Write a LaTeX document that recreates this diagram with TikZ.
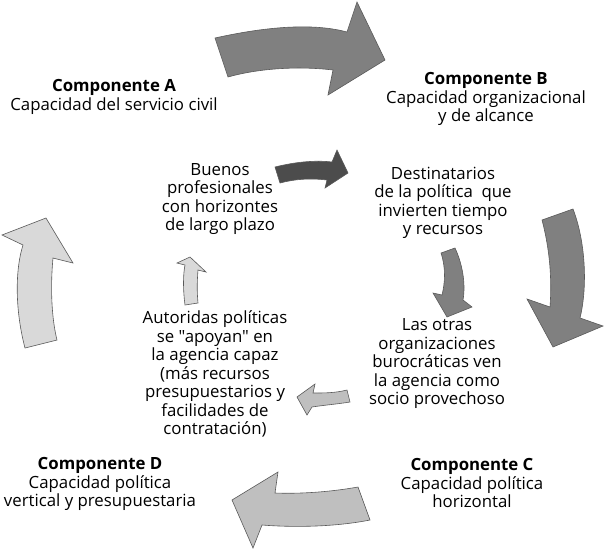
\documentclass[tikz,border=0pt]{standalone}
\usepackage{fontspec}
\setmainfont{Open Sans}[Ligatures=TeXOff]
\usepackage{tikz}
\usetikzlibrary{positioning}

\begin{document}
\begin{tikzpicture}[x=1pt, y=-1pt,
  label/.style={align=center, inner sep=0pt, font=\fontsize{16.8}{18.5}\selectfont},
  blockarrow/.style={draw=black!65, line width=0.6pt}]
\useasboundingbox (0,0) rectangle (605,550);

% big arrows of the outer cycle
\draw [blockarrow, fill=black!50] (215,38) .. controls (260,28) and (310,22) .. (347,32) -- (357,2) -- (385,60) -- (328,95) -- (333,70) .. controls (300,66) and (260,68) .. (228,77) -- cycle;
\draw [blockarrow, fill=black!50] (542,220) .. controls (550,250) and (552,280) .. (550,307) -- (527,299) -- (553,347) -- (603,326) -- (580,318) .. controls (588,285) and (585,240) .. (573,209) -- cycle;
\draw [blockarrow, fill=black!25] (358,487) .. controls (330,492) and (300,494) .. (275,493) -- (278,472) -- (232,500) -- (253,548) -- (262,525) .. controls (300,528) and (340,526) .. (370,520) -- cycle;
\draw [blockarrow, fill=black!15] (25,348) .. controls (15,310) and (15,270) .. (23,245) -- (2,235) -- (46,218) -- (73,263) -- (53,258) .. controls (50,290) and (52,320) .. (57,340) -- cycle;

% small arrows of the inner cycle
\draw [blockarrow, fill=black!70] (275,167) .. controls (295,162) and (315,160) .. (332,162) -- (337,150) -- (348,173) -- (325,188) -- (327,180) .. controls (310,178) and (295,179) .. (280,183) -- cycle;
\draw [blockarrow, fill=black!50] (441,253) .. controls (446,268) and (445,283) .. (442,295) -- (433,293) -- (447,317) -- (472,307) -- (463,300) .. controls (466,283) and (462,263) .. (455,248) -- cycle;
\draw [blockarrow, fill=black!25] (347,390) .. controls (335,393) and (325,393) .. (313,393) -- (315,384) -- (297,397) -- (307,415) -- (312,407) .. controls (325,405) and (338,404) .. (350,402) -- cycle;
\draw [blockarrow, fill=black!15] (185,305) .. controls (183,290) and (183,275) .. (185,265) -- (177,263) -- (190,257) -- (206,272) -- (198,270) .. controls (197,282) and (197,293) .. (198,303) -- cycle;

% components
\node (compA) [label] at (114,97) {\textbf{Componente A}\\Capacidad del servicio civil};
\node (compB) [label] at (486,99) {\textbf{Componente B}\\Capacidad organizacional\\y de alcance};
\node (compC) [label] at (472,483) {\textbf{Componente C}\\Capacidad política\\horizontal};
\node (compD) [label] at (100,484) {\textbf{Componente D}\\Capacidad política\\vertical y presupuestaria};

% effects
\node (buenos) [label] at (220,199) {Buenos\\profesionales\\con horizontes\\de largo plazo};
\node (destin) [label] at (443,203) {Destinatarios\\de la política\ \ que\\invierten tiempo\\y recursos};
\node (otras) [label] at (437,364) {Las otras\\organizaciones\\burocráticas ven\\la agencia como\\socio provechoso};
\node (autor) [label] at (215,374) {Autoridas políticas\\se "apoyan" en\\la agencia capaz\\(más recursos\\presupuestarios y\\facilidades de\\contratación)};
\end{tikzpicture}
\end{document}
